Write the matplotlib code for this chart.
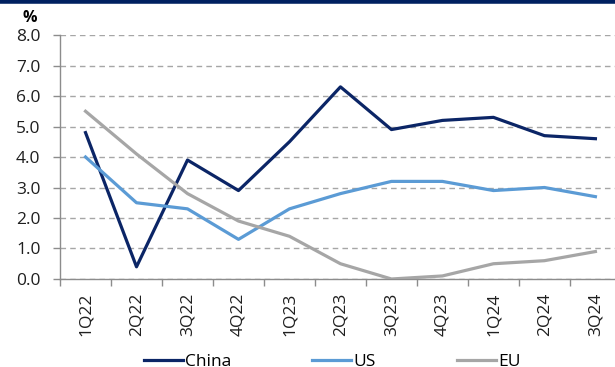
import matplotlib
matplotlib.use('Agg')
import matplotlib.pyplot as plt
from matplotlib.lines import Line2D

plt.rcParams['font.family'] = ['Open Sans', 'DejaVu Sans']

quarters = ['1Q22', '2Q22', '3Q22', '4Q22', '1Q23', '2Q23', '3Q23',
            '4Q23', '1Q24', '2Q24', '3Q24']
china = [4.8, 0.4, 3.9, 2.9, 4.5, 6.3, 4.9, 5.2, 5.3, 4.7, 4.6]
us = [4.0, 2.5, 2.3, 1.3, 2.3, 2.8, 3.2, 3.2, 2.9, 3.0, 2.7]
eu = [5.5, 4.1, 2.8, 1.9, 1.4, 0.5, 0.0, 0.1, 0.5, 0.6, 0.9]

navy = '#0b2566'
blue = '#5b9bd5'
grey = '#a6a6a6'
fs = 12.5

fig = plt.figure(figsize=(6.15, 3.67), dpi=100)
ax = fig.add_axes([0.0976, 0.2398, 0.912, 0.6648])

x = range(len(quarters))
ax.plot(x, china, color=navy, lw=2.3, label='China', zorder=3)
ax.plot(x, us, color=blue, lw=2.3, label='US', zorder=3)
ax.plot(x, eu, color=grey, lw=2.3, label='EU', zorder=3)

ax.set_xlim(-0.5, len(quarters) - 0.5)
ax.set_ylim(0, 8)
ax.set_yticks([i * 1.0 for i in range(9)])
ax.set_yticklabels([f'{i:.1f}' for i in range(9)], fontsize=fs, color='#1f1f1f')
ax.set_xticks([i for i in x])
ax.set_xticklabels(quarters, rotation=90, fontsize=fs, color='#1f1f1f')
ax.set_xticks([i - 0.5 for i in range(len(quarters) + 1)], minor=True)
ax.tick_params(axis='x', which='major', length=0, pad=10)
ax.tick_params(axis='x', which='minor', length=5, color='#8c8c8c', width=1)
ax.tick_params(axis='y', length=5, color='#8c8c8c', width=1, pad=9)

ax.grid(axis='y', color='#a6a6a6', ls=(0, (4, 3)), lw=1)
for s in ['top', 'right']:
    ax.spines[s].set_visible(False)
for s in ['left', 'bottom']:
    ax.spines[s].set_color('#8c8c8c')
    ax.spines[s].set_linewidth(1)

fig.text(0.049, 0.95, '%', fontsize=11.5, fontweight='bold', ha='center', va='center')

# navy rule across the top
fig.add_artist(Line2D([0, 1], [0.996, 0.996], color='#002060', lw=4,
                      transform=fig.transFigure))

fig.legend(loc='center', bbox_to_anchor=(0.54, 0.0136), ncol=3, frameon=False,
           fontsize=fs, handlelength=2.25, columnspacing=4.7, handletextpad=0.1)

fig.savefig('out.png', dpi=100)
